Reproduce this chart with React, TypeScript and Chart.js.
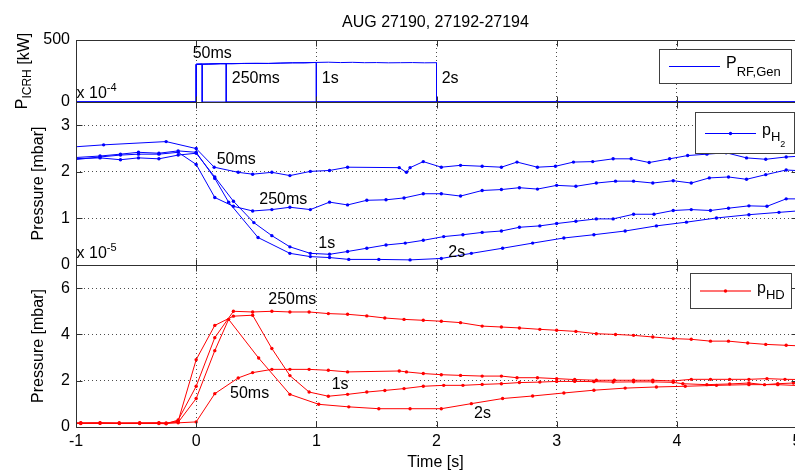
import React, { useEffect, useRef } from 'react';
import { Chart, registerables } from 'chart.js';

Chart.register(...registerables);

const FONT = '"Liberation Sans", Arial, Helvetica, sans-serif';
const BLUE = '#0000ff';
const RED = '#ff0000';
const AXIS = '#303030';
const GRID = 'rgba(0,0,0,0.7)';

// ---------------- tick values ----------------
const timeTicks = [-1, 0, 1, 2, 3, 4, 5];
const rfTicks = [0, 500];
const h2Ticks = [0, 1, 2, 3];
const hdTicks = [0, 2, 4, 6];

// ---------------- P_RF,Gen [kW] ----------------
const rfT_50ms = [-1.05, 0, 0, 0.05, 0.05, 5.05];
const rfP_50ms = [0, 0, 304, 306, 0, 0];
const rfT_250ms = [-1.05, 0, 0, 0.1, 0.2, 0.25, 0.25, 5.05];
const rfP_250ms = [0, 0, 304, 306, 309, 309, 0, 0];
const rfT_1s = [-1.05, 0, 0, 0.2, 0.4, 0.6, 0.8, 1.0, 1.0, 5.05];
const rfP_1s = [0, 0, 304, 309, 311, 311, 316, 319, 0, 0];
const rfT_2s = [-1.05, 0, 0, 0.1, 0.2, 0.3, 0.4, 0.5, 0.6, 0.7, 0.8, 0.9, 1.0, 1.1, 1.2, 1.3, 1.4, 1.5, 1.6, 1.7, 1.8, 1.9, 2.0, 2.0, 5.05];
const rfP_2s = [0, 0, 304, 306, 309, 308, 311, 312, 311, 314, 316, 315, 319, 321, 318, 320, 317, 318, 316, 317, 318, 316, 317, 0, 0];

// ---------------- p_H2 [x1e-5 mbar] ----------------
const h2T_50ms = [-1.05, -0.77, -0.25, 0, 0.15, 0.35, 0.47, 0.63, 0.78, 0.95, 1.11, 1.26, 1.69, 1.75, 1.78, 1.89, 2.04, 2.20, 2.38, 2.54, 2.67, 2.84, 2.99, 3.14, 3.30, 3.47, 3.62, 3.77, 3.94, 4.09, 4.25, 4.41, 4.58, 4.74, 4.91, 5.05];
const h2P_50ms = [2.53, 2.58, 2.65, 2.50, 2.10, 1.99, 1.95, 1.99, 1.92, 2.01, 2.03, 2.10, 2.09, 1.99, 2.09, 2.22, 2.10, 2.14, 2.12, 2.10, 2.21, 2.10, 2.12, 2.21, 2.22, 2.28, 2.28, 2.20, 2.28, 2.35, 2.38, 2.41, 2.30, 2.27, 2.32, 2.34];
const h2T_250ms = [-1.05, -0.8, -0.63, -0.48, -0.31, -0.15, 0, 0.155, 0.31, 0.47, 0.63, 0.78, 0.95, 1.11, 1.26, 1.42, 1.58, 1.73, 1.89, 2.04, 2.20, 2.38, 2.54, 2.69, 2.84, 3.00, 3.16, 3.33, 3.49, 3.64, 3.80, 3.97, 4.12, 4.27, 4.43, 4.58, 4.74, 4.91, 5.05];
const h2P_250ms = [2.25, 2.32, 2.36, 2.38, 2.38, 2.42, 2.16, 1.45, 1.26, 1.16, 1.19, 1.24, 1.19, 1.35, 1.29, 1.39, 1.40, 1.44, 1.53, 1.53, 1.48, 1.60, 1.62, 1.66, 1.63, 1.71, 1.69, 1.76, 1.80, 1.80, 1.76, 1.81, 1.76, 1.87, 1.89, 1.84, 1.94, 2.04, 2.02];
const h2T_1s = [-1.05, -0.8, -0.63, -0.48, -0.31, -0.15, 0, 0.155, 0.31, 0.48, 0.63, 0.78, 0.95, 1.11, 1.26, 1.42, 1.58, 1.74, 1.89, 2.06, 2.22, 2.38, 2.54, 2.69, 2.86, 3.00, 3.16, 3.33, 3.47, 3.64, 3.81, 3.97, 4.12, 4.28, 4.43, 4.60, 4.75, 4.91, 5.05];
const h2P_1s = [2.28, 2.30, 2.26, 2.30, 2.28, 2.36, 2.40, 1.89, 1.37, 0.91, 0.63, 0.39, 0.25, 0.23, 0.29, 0.36, 0.43, 0.47, 0.53, 0.61, 0.65, 0.70, 0.73, 0.81, 0.84, 0.89, 0.94, 0.99, 0.99, 1.09, 1.09, 1.17, 1.19, 1.17, 1.22, 1.27, 1.26, 1.42, 1.42];
const h2T_2s = [-1.05, -0.8, -0.63, -0.48, -0.31, -0.15, 0, 0.155, 0.27, 0.515, 0.78, 0.95, 1.11, 1.27, 1.52, 1.78, 2.04, 2.29, 2.55, 2.80, 3.06, 3.31, 3.57, 3.83, 4.08, 4.33, 4.60, 4.85, 5.05];
const h2P_2s = [2.30, 2.34, 2.38, 2.42, 2.40, 2.45, 2.42, 1.86, 1.35, 0.59, 0.25, 0.18, 0.16, 0.12, 0.12, 0.11, 0.14, 0.25, 0.36, 0.47, 0.58, 0.65, 0.73, 0.84, 0.92, 1.01, 1.08, 1.13, 1.17];

// ---------------- p_HD [x1e-5 mbar] ----------------
const hdT_50ms = [-1.05, -0.96, -0.80, -0.64, -0.47, -0.31, -0.15, 0, 0.155, 0.35, 0.47, 0.63, 0.78, 0.94, 1.10, 1.26, 1.69, 1.75, 1.89, 2.04, 2.20, 2.38, 2.54, 2.67, 2.84, 3.00, 3.15, 3.33, 3.48, 3.64, 3.80, 3.97, 4.12, 4.28, 4.44, 4.60, 4.75, 4.90, 5.05];
const hdP_50ms = [0.17, 0.17, 0.18, 0.17, 0.17, 0.17, 0.18, 0.22, 1.44, 2.12, 2.35, 2.49, 2.49, 2.49, 2.45, 2.38, 2.42, 2.38, 2.31, 2.26, 2.23, 2.20, 2.20, 2.13, 2.13, 2.09, 2.05, 2.02, 2.02, 2.02, 2.02, 1.99, 2.06, 2.06, 2.06, 2.06, 2.09, 2.06, 2.05];
const hdT_250ms = [-1.05, -0.96, -0.80, -0.64, -0.47, -0.31, -0.25, -0.15, 0, 0.155, 0.31, 0.47, 0.63, 0.78, 0.94, 1.10, 1.26, 1.42, 1.57, 1.73, 1.89, 2.04, 2.20, 2.38, 2.54, 2.69, 2.86, 3.00, 3.16, 3.33, 3.49, 3.64, 3.80, 3.97, 4.12, 4.28, 4.43, 4.59, 4.74, 4.91, 5.05];
const hdP_250ms = [0.15, 0.15, 0.16, 0.15, 0.15, 0.15, 0.14, 0.30, 1.76, 3.86, 5.00, 4.97, 5.00, 4.97, 4.97, 4.90, 4.87, 4.80, 4.71, 4.65, 4.61, 4.57, 4.51, 4.36, 4.32, 4.28, 4.22, 4.18, 4.13, 4.03, 4.00, 3.96, 3.89, 3.82, 3.79, 3.71, 3.71, 3.63, 3.57, 3.53, 3.50];
const hdT_1s = [-1.05, -0.96, -0.80, -0.64, -0.47, -0.31, -0.25, -0.15, 0, 0.155, 0.31, 0.47, 0.63, 0.78, 0.94, 1.10, 1.26, 1.42, 1.57, 1.73, 1.89, 2.06, 2.22, 2.38, 2.54, 2.69, 2.86, 3.00, 3.15, 3.31, 3.47, 3.64, 3.80, 3.97, 4.05, 4.25, 4.44, 4.60, 4.73, 4.84, 4.97, 5.05];
const hdP_1s = [0.17, 0.17, 0.17, 0.16, 0.17, 0.18, 0.17, 0.25, 2.91, 4.39, 4.79, 4.83, 3.39, 2.22, 1.51, 1.33, 1.41, 1.51, 1.58, 1.66, 1.76, 1.80, 1.80, 1.84, 1.87, 1.92, 1.94, 1.97, 1.97, 1.96, 1.94, 1.95, 1.95, 1.93, 1.87, 1.83, 1.86, 1.90, 1.83, 1.87, 1.90, 1.90];
const hdT_2s = [-1.05, -0.96, -0.80, -0.64, -0.47, -0.31, -0.25, -0.15, 0, 0.155, 0.27, 0.52, 0.78, 1.02, 1.27, 1.52, 1.78, 2.04, 2.29, 2.55, 2.80, 3.06, 3.31, 3.57, 3.83, 4.07, 4.33, 4.60, 4.84, 5.05];
const hdP_2s = [0.17, 0.17, 0.17, 0.17, 0.17, 0.17, 0.15, 0.20, 1.23, 3.30, 4.65, 2.98, 1.41, 0.98, 0.87, 0.79, 0.79, 0.79, 1.01, 1.23, 1.34, 1.47, 1.59, 1.68, 1.73, 1.76, 1.80, 1.83, 1.83, 1.78];

// ---------------- helpers ----------------
type Seg = { t: string; s: number; dy?: number };
type Note = { x: number; y: number; segs: Seg[] };
type Legend = { right: number; top: number; w: number; h: number; stroke: string; marker: boolean; segs: Seg[]; soft: boolean };
type YTitle = { x: number; segs: Seg[] };
type Decor = {
  notes: Note[];
  legend: Legend;
  yTitle: YTitle;
  title?: string;
  xTitle?: string;
};

const pts = (t: number[], v: number[]) => t.map((x, i) => ({ x, y: v[i] }));

function segsWidth(ctx: CanvasRenderingContext2D, segs: Seg[]) {
  let w = 0;
  for (const g of segs) {
    ctx.font = `${g.s}px ${FONT}`;
    w += ctx.measureText(g.t).width;
  }
  return w;
}
function drawSegs(ctx: CanvasRenderingContext2D, segs: Seg[], x: number, y: number) {
  let cx = x;
  for (const g of segs) {
    ctx.font = `${g.s}px ${FONT}`;
    ctx.fillText(g.t, cx, y + (g.dy || 0));
    cx += ctx.measureText(g.t).width;
  }
}

function makeDecorPlugin(o: Decor) {
  return {
    id: 'decor',
    afterDraw(chart: any) {
      const ctx: CanvasRenderingContext2D = chart.ctx;
      const a = chart.chartArea;
      const xs = chart.scales.x;
      const ys = chart.scales.y;
      ctx.save();
      ctx.setLineDash([]);
      ctx.globalAlpha = 1;
      const L = Math.round(a.left) + 0.5;
      const R = Math.round(a.right) + 0.5;
      const T = Math.round(a.top) + 0.5;
      const B = Math.round(a.bottom) + 0.5;
      ctx.strokeStyle = AXIS;
      ctx.lineWidth = 1;
      ctx.beginPath();
      ctx.rect(L, T, R - L, B - T);
      for (const tk of xs.ticks) {
        const px = Math.round(xs.getPixelForValue(tk.value)) + 0.5;
        ctx.moveTo(px, T); ctx.lineTo(px, T + 6);
        ctx.moveTo(px, B); ctx.lineTo(px, B - 6);
      }
      for (const tk of ys.ticks) {
        const py = Math.round(ys.getPixelForValue(tk.value)) + 0.5;
        ctx.moveTo(L, py); ctx.lineTo(L + 6, py);
        ctx.moveTo(R, py); ctx.lineTo(R - 6, py);
      }
      ctx.stroke();

      ctx.fillStyle = '#000';
      ctx.textBaseline = 'alphabetic';
      ctx.textAlign = 'left';
      for (const n of o.notes) {
        drawSegs(ctx, n.segs, xs.getPixelForValue(n.x), ys.getPixelForValue(n.y));
      }

      // legend
      const lg = o.legend;
      const bx = Math.round(a.right - lg.right);
      const by = Math.round(a.top + lg.top);
      const bl = bx - lg.w;
      ctx.fillStyle = '#ffffff';
      ctx.fillRect(bl, by, lg.w, lg.h);
      ctx.strokeStyle = '#404040';
      ctx.strokeRect(bl + 0.5, by + 0.5, lg.w, lg.h);
      const cy = by + lg.h / 2;
      const ly = Math.round(cy);
      ctx.fillStyle = lg.stroke;
      if (lg.soft) {
        ctx.globalAlpha = 0.55;
        ctx.fillRect(bl + 10, ly - 1, 51, 2);
        ctx.globalAlpha = 1;
      } else {
        ctx.fillRect(bl + 10, ly, 51, 1);
      }
      if (lg.marker) {
        ctx.beginPath();
        ctx.arc(bl + 35.5, lg.soft ? ly : ly + 0.5, 1.7, 0, Math.PI * 2);
        ctx.fill();
      }
      ctx.fillStyle = '#000';
      drawSegs(ctx, lg.segs, bl + 67, cy + 2);

      // y title (rotated)
      const yt = o.yTitle;
      const w = segsWidth(ctx, yt.segs);
      ctx.save();
      ctx.translate(yt.x, (a.top + a.bottom) / 2 + w / 2);
      ctx.rotate(-Math.PI / 2);
      drawSegs(ctx, yt.segs, 0, 0);
      ctx.restore();

      ctx.textAlign = 'center';
      if (o.title) {
        ctx.font = `16px ${FONT}`;
        ctx.fillText(o.title, (a.left + a.right) / 2 - 1, 27);
      }
      if (o.xTitle) {
        ctx.font = `16px ${FONT}`;
        ctx.fillText(o.xTitle, (a.left + a.right) / 2 - 1, 467);
      }
      ctx.restore();
    },
  };
}

const CW = 820;
const CH = 470;

function makeConfig(opts: {
  padTop: number; padBottom: number; showX: boolean;
  yMin: number; yMax: number; yTicks: number[]; yGrid: boolean;
  datasets: any[]; decor: Decor;
}) {
  const tickFont = { family: FONT, size: 16 };
  return {
    type: 'line',
    data: { datasets: opts.datasets },
    options: {
      responsive: false,
      animation: false,
      events: [],
      layout: { padding: { left: 0, right: CW - 797, top: opts.padTop, bottom: opts.padBottom } },
      plugins: { legend: { display: false }, tooltip: { enabled: false }, title: { display: false } },
      elements: { line: { tension: 0 } },
      scales: {
        x: {
          type: 'linear', min: -1, max: 5,
          afterBuildTicks: (s: any) => { s.ticks = timeTicks.map((v) => ({ value: v })); },
          afterFit: (s: any) => { s.height = opts.showX ? CH - 427 : 0; },
          ticks: { display: opts.showX, font: tickFont, color: '#000', padding: 5, maxRotation: 0, autoSkip: false },
          grid: { color: GRID, lineWidth: 1, drawTicks: false },
          border: { display: false, dash: [1, 3] },
        },
        y: {
          type: 'linear', min: opts.yMin, max: opts.yMax,
          afterBuildTicks: (s: any) => { s.ticks = opts.yTicks.map((v) => ({ value: v })); },
          afterFit: (s: any) => { s.width = 76; },
          ticks: { font: tickFont, color: '#000', padding: 6, autoSkip: false },
          grid: { display: opts.yGrid, color: GRID, lineWidth: 1, drawTicks: false },
          border: { display: false, dash: [1, 3] },
        },
      },
    },
    plugins: [makeDecorPlugin(opts.decor)],
  } as any;
}

const lineDs = (data: any[], color: string, marker: boolean) => ({
  data,
  borderColor: color,
  backgroundColor: color,
  borderWidth: 1,
  pointRadius: marker ? 1.7 : 0,
  pointBorderWidth: 0,
  pointBackgroundColor: color,
  fill: false,
});

function Panel({ cfg }: { cfg: () => any }) {
  const ref = useRef<HTMLCanvasElement | null>(null);
  useEffect(() => {
    if (!ref.current) return;
    const c = new Chart(ref.current, cfg());
    return () => c.destroy();
  }, []);
  return (
    <canvas
      ref={ref}
      width={CW}
      height={CH}
      style={{ position: 'absolute', left: 0, top: 0, width: CW, height: CH }}
    />
  );
}

const topCfg = () =>
  makeConfig({
    padTop: 40, padBottom: CH - 102, showX: false,
    yMin: 0, yMax: 500, yTicks: rfTicks, yGrid: false,
    datasets: [
      lineDs(pts(rfT_50ms, rfP_50ms), BLUE, false),
      lineDs(pts(rfT_250ms, rfP_250ms), BLUE, false),
      lineDs(pts(rfT_1s, rfP_1s), BLUE, false),
      lineDs(pts(rfT_2s, rfP_2s), BLUE, false),
    ],
    decor: {
      title: 'AUG 27190, 27192-27194',
      notes: [
        { x: -0.029, y: 352, segs: [{ t: '50ms', s: 16 }] },
        { x: 0.296, y: 151, segs: [{ t: '250ms', s: 16 }] },
        { x: 1.045, y: 151, segs: [{ t: '1s', s: 16 }] },
        { x: 2.043, y: 151, segs: [{ t: '2s', s: 16 }] },
        { x: -0.995, y: 30, segs: [{ t: 'x 10', s: 16 }, { t: '-4', s: 11, dy: -7 }] },
      ],
      legend: { right: 6, top: 9, w: 132, h: 34, stroke: BLUE, marker: false, soft: false, segs: [{ t: 'P', s: 16 }, { t: 'RF,Gen', s: 13, dy: 8 }] },
      yTitle: { x: 27, segs: [{ t: 'P', s: 16 }, { t: 'ICRH', s: 12, dy: 4 }, { t: ' [kW]', s: 16, dy: 2 }] },
    },
  });

const midCfg = () =>
  makeConfig({
    padTop: 102, padBottom: CH - 265, showX: false,
    yMin: 0, yMax: 3.5, yTicks: h2Ticks, yGrid: true,
    datasets: [
      lineDs(pts(h2T_50ms, h2P_50ms), BLUE, true),
      lineDs(pts(h2T_250ms, h2P_250ms), BLUE, true),
      lineDs(pts(h2T_1s, h2P_1s), BLUE, true),
      lineDs(pts(h2T_2s, h2P_2s), BLUE, true),
    ],
    decor: {
      notes: [
        { x: 0.171, y: 2.16, segs: [{ t: '50ms', s: 16 }] },
        { x: 0.525, y: 1.32, segs: [{ t: '250ms', s: 16 }] },
        { x: 1.016, y: 0.36, segs: [{ t: '1s', s: 16 }] },
        { x: 2.098, y: 0.18, segs: [{ t: '2s', s: 16 }] },
        { x: -0.995, y: 0.14, segs: [{ t: 'x 10', s: 16 }, { t: '-5', s: 11, dy: -7 }] },
      ],
      legend: { right: 3, top: 10, w: 99, h: 41, stroke: BLUE, marker: true, soft: false, segs: [{ t: 'p', s: 16 }, { t: 'H', s: 13, dy: 6 }, { t: '2', s: 9, dy: 12 }] },
      yTitle: { x: 43, segs: [{ t: 'Pressure [mbar]', s: 16 }] },
    },
  });

const botCfg = () =>
  makeConfig({
    padTop: 265, padBottom: 0, showX: true,
    yMin: 0, yMax: 7, yTicks: hdTicks, yGrid: true,
    datasets: [
      lineDs(pts(hdT_50ms, hdP_50ms), RED, true),
      lineDs(pts(hdT_250ms, hdP_250ms), RED, true),
      lineDs(pts(hdT_1s, hdP_1s), RED, true),
      lineDs(pts(hdT_2s, hdP_2s), RED, true),
    ],
    decor: {
      xTitle: 'Time [s]',
      notes: [
        { x: 0.6, y: 5.3, segs: [{ t: '250ms', s: 16 }] },
        { x: 1.128, y: 1.63, segs: [{ t: '1s', s: 16 }] },
        { x: 0.282, y: 1.27, segs: [{ t: '50ms', s: 16 }] },
        { x: 2.312, y: 0.38, segs: [{ t: '2s', s: 16 }] },
      ],
      legend: { right: 6, top: 8, w: 101, h: 35, stroke: RED, marker: true, soft: true, segs: [{ t: 'p', s: 16 }, { t: 'HD', s: 13, dy: 6 }] },
      yTitle: { x: 43, segs: [{ t: 'Pressure [mbar]', s: 16 }] },
    },
  });

export default function App() {
  return (
    <div
      style={{
        position: 'fixed', left: 0, top: 0, width: 795, height: 470,
        overflow: 'hidden', background: '#fff',
      }}
    >
      <Panel cfg={topCfg} />
      <Panel cfg={midCfg} />
      <Panel cfg={botCfg} />
    </div>
  );
}
